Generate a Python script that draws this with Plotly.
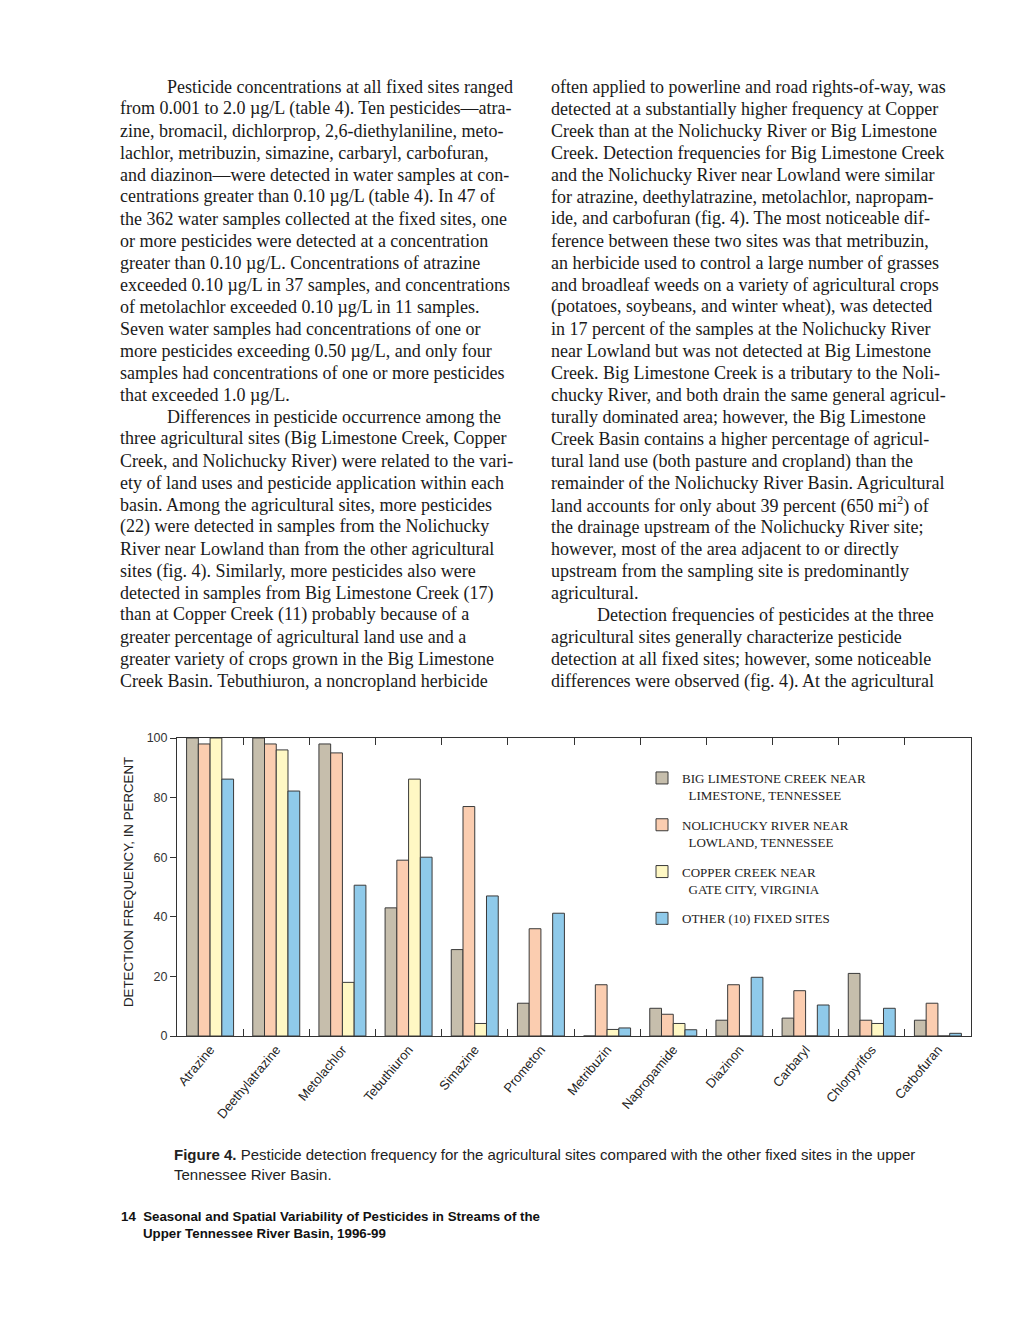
import plotly.graph_objects as go

W, H = 1020, 1320

pesticides = ["Atrazine", "Deethylatrazine", "Metolachlor", "Tebuthiuron", "Simazine", "Prometon",
              "Metribuzin", "Napropamide", "Diazinon", "Carbaryl", "Chlorpyrifos", "Carbofuran"]
big_limestone = [100, 100, 98, 43, 29, 11, 0, 9.3, 5.3, 6.0, 21, 5.3]
nolichucky = [98, 98, 95, 59, 77, 36, 17.2, 7.3, 17.2, 15.2, 5.3, 11]
copper_creek = [100, 96, 18, 86.2, 4.2, 0, 2.2, 4.2, 0, 0, 4.2, 0]
other_sites = [86.2, 82.2, 50.6, 60, 47, 41.2, 2.7, 2.1, 19.7, 10.4, 9.3, 0.9]

series_names = ["BIG LIMESTONE CREEK NEAR<br>\u00a0\u00a0LIMESTONE, TENNESSEE",
                "NOLICHUCKY RIVER NEAR<br>\u00a0\u00a0LOWLAND, TENNESSEE",
                "COPPER CREEK NEAR<br>\u00a0\u00a0GATE CITY, VIRGINIA",
                "OTHER (10) FIXED SITES"]
series_colors = ["#c6beac", "#fbcdb0", "#fff8c4", "#8fcaea"]
y_ticks = [0, 20, 40, 60, 80, 100]

left_col = [
    ">Pesticide concentrations at all fixed sites ranged",
    "from 0.001 to 2.0 \u00b5g/L (table 4). Ten pesticides\u2014atra-",
    "zine, bromacil, dichlorprop, 2,6-diethylaniline, meto-",
    "lachlor, metribuzin, simazine, carbaryl, carbofuran,",
    "and diazinon\u2014were detected in water samples at con-",
    "centrations greater than 0.10 \u00b5g/L (table 4). In 47 of",
    "the 362 water samples collected at the fixed sites, one",
    "or more pesticides were detected at a concentration",
    "greater than 0.10 \u00b5g/L. Concentrations of atrazine",
    "exceeded 0.10 \u00b5g/L in 37 samples, and concentrations",
    "of metolachlor exceeded 0.10 \u00b5g/L in 11 samples.",
    "Seven water samples had concentrations of one or",
    "more pesticides exceeding 0.50 \u00b5g/L, and only four",
    "samples had concentrations of one or more pesticides",
    "that exceeded 1.0 \u00b5g/L.",
    ">Differences in pesticide occurrence among the",
    "three agricultural sites (Big Limestone Creek, Copper",
    "Creek, and Nolichucky River) were related to the vari-",
    "ety of land uses and pesticide application within each",
    "basin. Among the agricultural sites, more pesticides",
    "(22) were detected in samples from the Nolichucky",
    "River near Lowland than from the other agricultural",
    "sites (fig. 4). Similarly, more pesticides also were",
    "detected in samples from Big Limestone Creek (17)",
    "than at Copper Creek (11) probably because of a",
    "greater percentage of agricultural land use and a",
    "greater variety of crops grown in the Big Limestone",
    "Creek Basin. Tebuthiuron, a noncropland herbicide",
]
right_col = [
    "often applied to powerline and road rights-of-way, was",
    "detected at a substantially higher frequency at Copper",
    "Creek than at the Nolichucky River or Big Limestone",
    "Creek. Detection frequencies for Big Limestone Creek",
    "and the Nolichucky River near Lowland were similar",
    "for atrazine, deethylatrazine, metolachlor, napropam-",
    "ide, and carbofuran (fig. 4). The most noticeable dif-",
    "ference between these two sites was that metribuzin,",
    "an herbicide used to control a large number of grasses",
    "and broadleaf weeds on a variety of agricultural crops",
    "(potatoes, soybeans, and winter wheat), was detected",
    "in 17 percent of the samples at the Nolichucky River",
    "near Lowland but was not detected at Big Limestone",
    "Creek. Big Limestone Creek is a tributary to the Noli-",
    "chucky River, and both drain the same general agricul-",
    "turally dominated area; however, the Big Limestone",
    "Creek Basin contains a higher percentage of agricul-",
    "tural land use (both pasture and cropland) than the",
    "remainder of the Nolichucky River Basin. Agricultural",
    "land accounts for only about 39 percent (650 mi<sup>2</sup>) of",
    "the drainage upstream of the Nolichucky River site;",
    "however, most of the area adjacent to or directly",
    "upstream from the sampling site is predominantly",
    "agricultural.",
    ">Detection frequencies of pesticides at the three",
    "agricultural sites generally characterize pesticide",
    "detection at all fixed sites; however, some noticeable",
    "differences were observed (fig. 4). At the agricultural",
]
caption = ("<b>Figure 4.</b> Pesticide detection frequency for the agricultural sites compared with the other fixed sites in the upper"
           "<br>Tennessee River Basin.")
footer1 = "<b>14  Seasonal and Spatial Variability of Pesticides in Streams of the</b>"
footer2 = "<b>Upper Tennessee River Basin, 1996-99</b>"
y_title = "DETECTION FREQUENCY, IN PERCENT"


def px(x):
    return x / W


def py(y):
    return 1 - y / H


fig = go.Figure()
for name, vals, col in zip(series_names, [big_limestone, nolichucky, copper_creek, other_sites], series_colors):
    fig.add_trace(go.Bar(x=pesticides, y=vals, name=name, legendgroup=name,
                         marker=dict(color=col, line=dict(color="#3a3a3a", width=1))))

axis_col = "#333333"
fig.update_layout(
    width=W, height=H, margin=dict(l=0, r=0, t=0, b=0, autoexpand=False),
    paper_bgcolor="white", plot_bgcolor="white",
    barmode="group", bargap=0.29, bargroupgap=0,
    xaxis=dict(domain=[px(177), px(971)], anchor="y", showline=True, linecolor=axis_col, linewidth=1,
               mirror="ticks", ticks="inside", ticklen=7, tickcolor=axis_col, tickson="boundaries",
               tickangle=-50, tickfont=dict(family="Liberation Sans, Arial", size=13, color="#222"),
               showgrid=False, zeroline=False, automargin=False),
    yaxis=dict(domain=[py(1036), py(738)], range=[0, 100], tickvals=y_ticks, showline=True,
               linecolor=axis_col, linewidth=1, mirror=True, ticks="outside", ticklen=6, tickcolor=axis_col,
               tickfont=dict(family="Liberation Sans, Arial", size=12.5, color="#333"),
               showgrid=False, zeroline=False, automargin=False),
    yaxis2=dict(overlaying="y", anchor="x", side="right", range=[0, 100], tickvals=[20, 40, 60, 80],
                ticks="inside", ticklen=7, tickcolor=axis_col, showticklabels=False, showline=False,
                showgrid=False, zeroline=False, automargin=False),
    legend=dict(x=px(642), y=py(763), xanchor="left", yanchor="top", traceorder="grouped",
                tracegroupgap=10, valign="top", bgcolor="rgba(0,0,0,0)",
                font=dict(family="Liberation Serif, Times New Roman", size=13, color="#222")),
    showlegend=True,
)

annotations = []
text_font = dict(family="Liberation Serif, Times New Roman", size=18, color="#1a1a1a")
for col_lines, x0, xind in [(left_col, 118, 165), (right_col, 549, 595)]:
    for i, line in enumerate(col_lines):
        indent = line.startswith(">")
        t = line[1:] if indent else line
        annotations.append(dict(x=px(xind if indent else x0), y=py(87 + 22 * i), xref="paper", yref="paper",
                                text=t, showarrow=False, xanchor="left", yanchor="middle", font=text_font))

annotations.append(dict(x=px(128), y=py(882), xref="paper", yref="paper", text=y_title, textangle=-90,
                        showarrow=False, xanchor="center", yanchor="middle",
                        font=dict(family="Liberation Sans, Arial", size=13.3, color="#222")))
annotations.append(dict(x=px(172), y=py(1164), xref="paper", yref="paper", text=caption, align="left",
                        showarrow=False, xanchor="left", yanchor="middle",
                        font=dict(family="Liberation Sans Narrow, Liberation Sans, Arial", size=15, color="#222")))
annotations.append(dict(x=px(119), y=py(1216), xref="paper", yref="paper", text=footer1,
                        showarrow=False, xanchor="left", yanchor="middle",
                        font=dict(family="Liberation Sans Narrow, Liberation Sans, Arial", size=13.3, color="#111")))
annotations.append(dict(x=px(141), y=py(1233), xref="paper", yref="paper", text=footer2,
                        showarrow=False, xanchor="left", yanchor="middle",
                        font=dict(family="Liberation Sans Narrow, Liberation Sans, Arial", size=13.3, color="#111")))
fig.update_layout(annotations=annotations)

fig.write_html("out.html", config={"displayModeBar": False},
               post_script="document.body.style.margin='0px';")
